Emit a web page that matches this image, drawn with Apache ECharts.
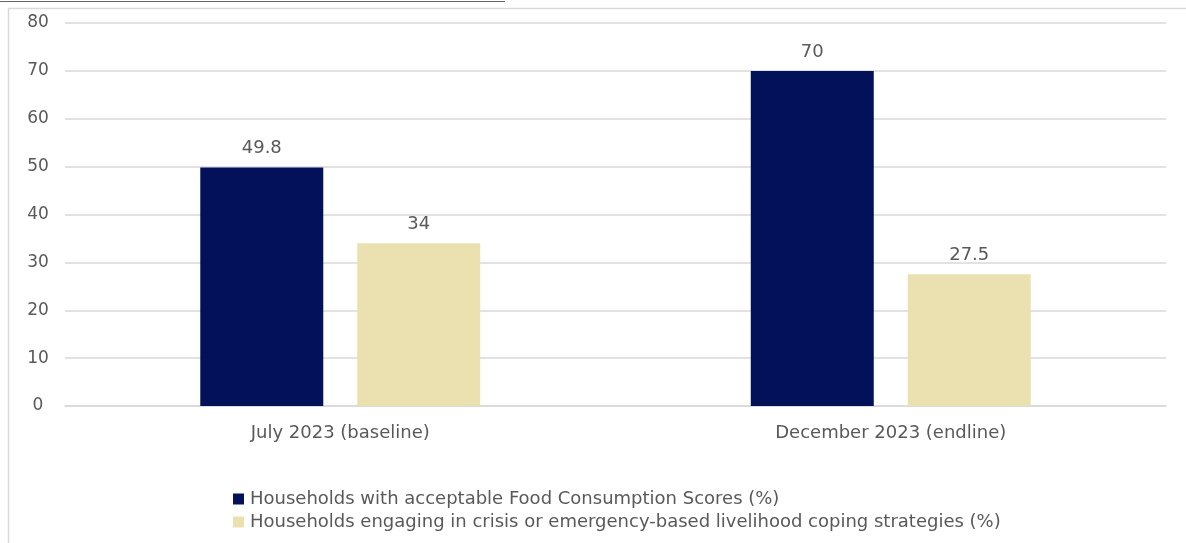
<!DOCTYPE html>
<html>
<head>
<meta charset="utf-8">
<script src="https://cdn.jsdelivr.net/npm/echarts@6/dist/echarts.min.js"></script>
<style>
html, body { margin: 0; padding: 0; background: #fff; }
#main { width: 1186px; height: 543px; }
</style>
</head>
<body>
<div id="main"></div>
<script>
var categories = ['July 2023 (baseline)', 'December 2023 (endline)'];
var seriesNames = [
    'Households with acceptable Food Consumption Scores (%)',
    'Households engaging in crisis or emergency-based livelihood coping strategies (%)'
];
var fcsValues = [49.8, 70];
var copingValues = [34, 27.5];

var dom = document.getElementById('main');
var myChart = echarts.init(dom);
var textColor = '#595959';
var fontFamily = 'DejaVu Sans, Verdana, sans-serif';

var option = {
    animation: false,
    backgroundColor: '#fff',
    textStyle: { fontFamily: fontFamily },
    graphic: [
        {
            type: 'rect',
            shape: { x: 8.5, y: 8.5, width: 1190, height: 560 },
            style: { fill: 'none', stroke: '#d9d9d9', lineWidth: 1.5 },
            silent: true
        },
        {
            type: 'line',
            shape: { x1: 0, y1: 1.5, x2: 505, y2: 1.5 },
            style: { stroke: '#666', lineWidth: 1 },
            silent: true
        }
    ],
    grid: {
        left: 65,
        right: 20,
        top: 23,
        bottom: 137
    },
    legend: {
        orient: 'vertical',
        left: 228,
        top: 485,
        icon: 'rect',
        itemWidth: 11,
        itemHeight: 11,
        itemGap: 5,
        itemStyle: { borderWidth: 0 },
        textStyle: { color: textColor, fontSize: 18, padding: [0, 0, 0, 1] },
        data: seriesNames
    },
    xAxis: {
        type: 'category',
        data: categories,
        axisLine: { lineStyle: { color: '#d9d9d9', width: 1.5 } },
        axisTick: { show: false },
        axisLabel: { color: textColor, fontSize: 18, margin: 18 }
    },
    yAxis: {
        type: 'value',
        min: 0,
        max: 80,
        interval: 10,
        axisLine: { show: false },
        axisTick: { show: false },
        splitLine: { lineStyle: { color: '#d9d9d9', width: 1.5 } },
        axisLabel: { color: textColor, fontSize: 17, margin: 27, align: 'center' }
    },
    series: [
        {
            name: seriesNames[0],
            type: 'bar',
            data: fcsValues,
            barWidth: 123,
            barGap: '27.6%',
            itemStyle: { color: '#02115A' },
            label: { show: true, position: 'top', distance: 10, color: textColor, fontSize: 18 }
        },
        {
            name: seriesNames[1],
            type: 'bar',
            data: copingValues,
            barWidth: 123,
            itemStyle: { color: '#EBE1B0' },
            label: { show: true, position: 'top', distance: 10, color: textColor, fontSize: 18 }
        }
    ]
};

myChart.setOption(option);
window.onresize = function () {
    myChart.resize();
};
</script>
</body>
</html>
